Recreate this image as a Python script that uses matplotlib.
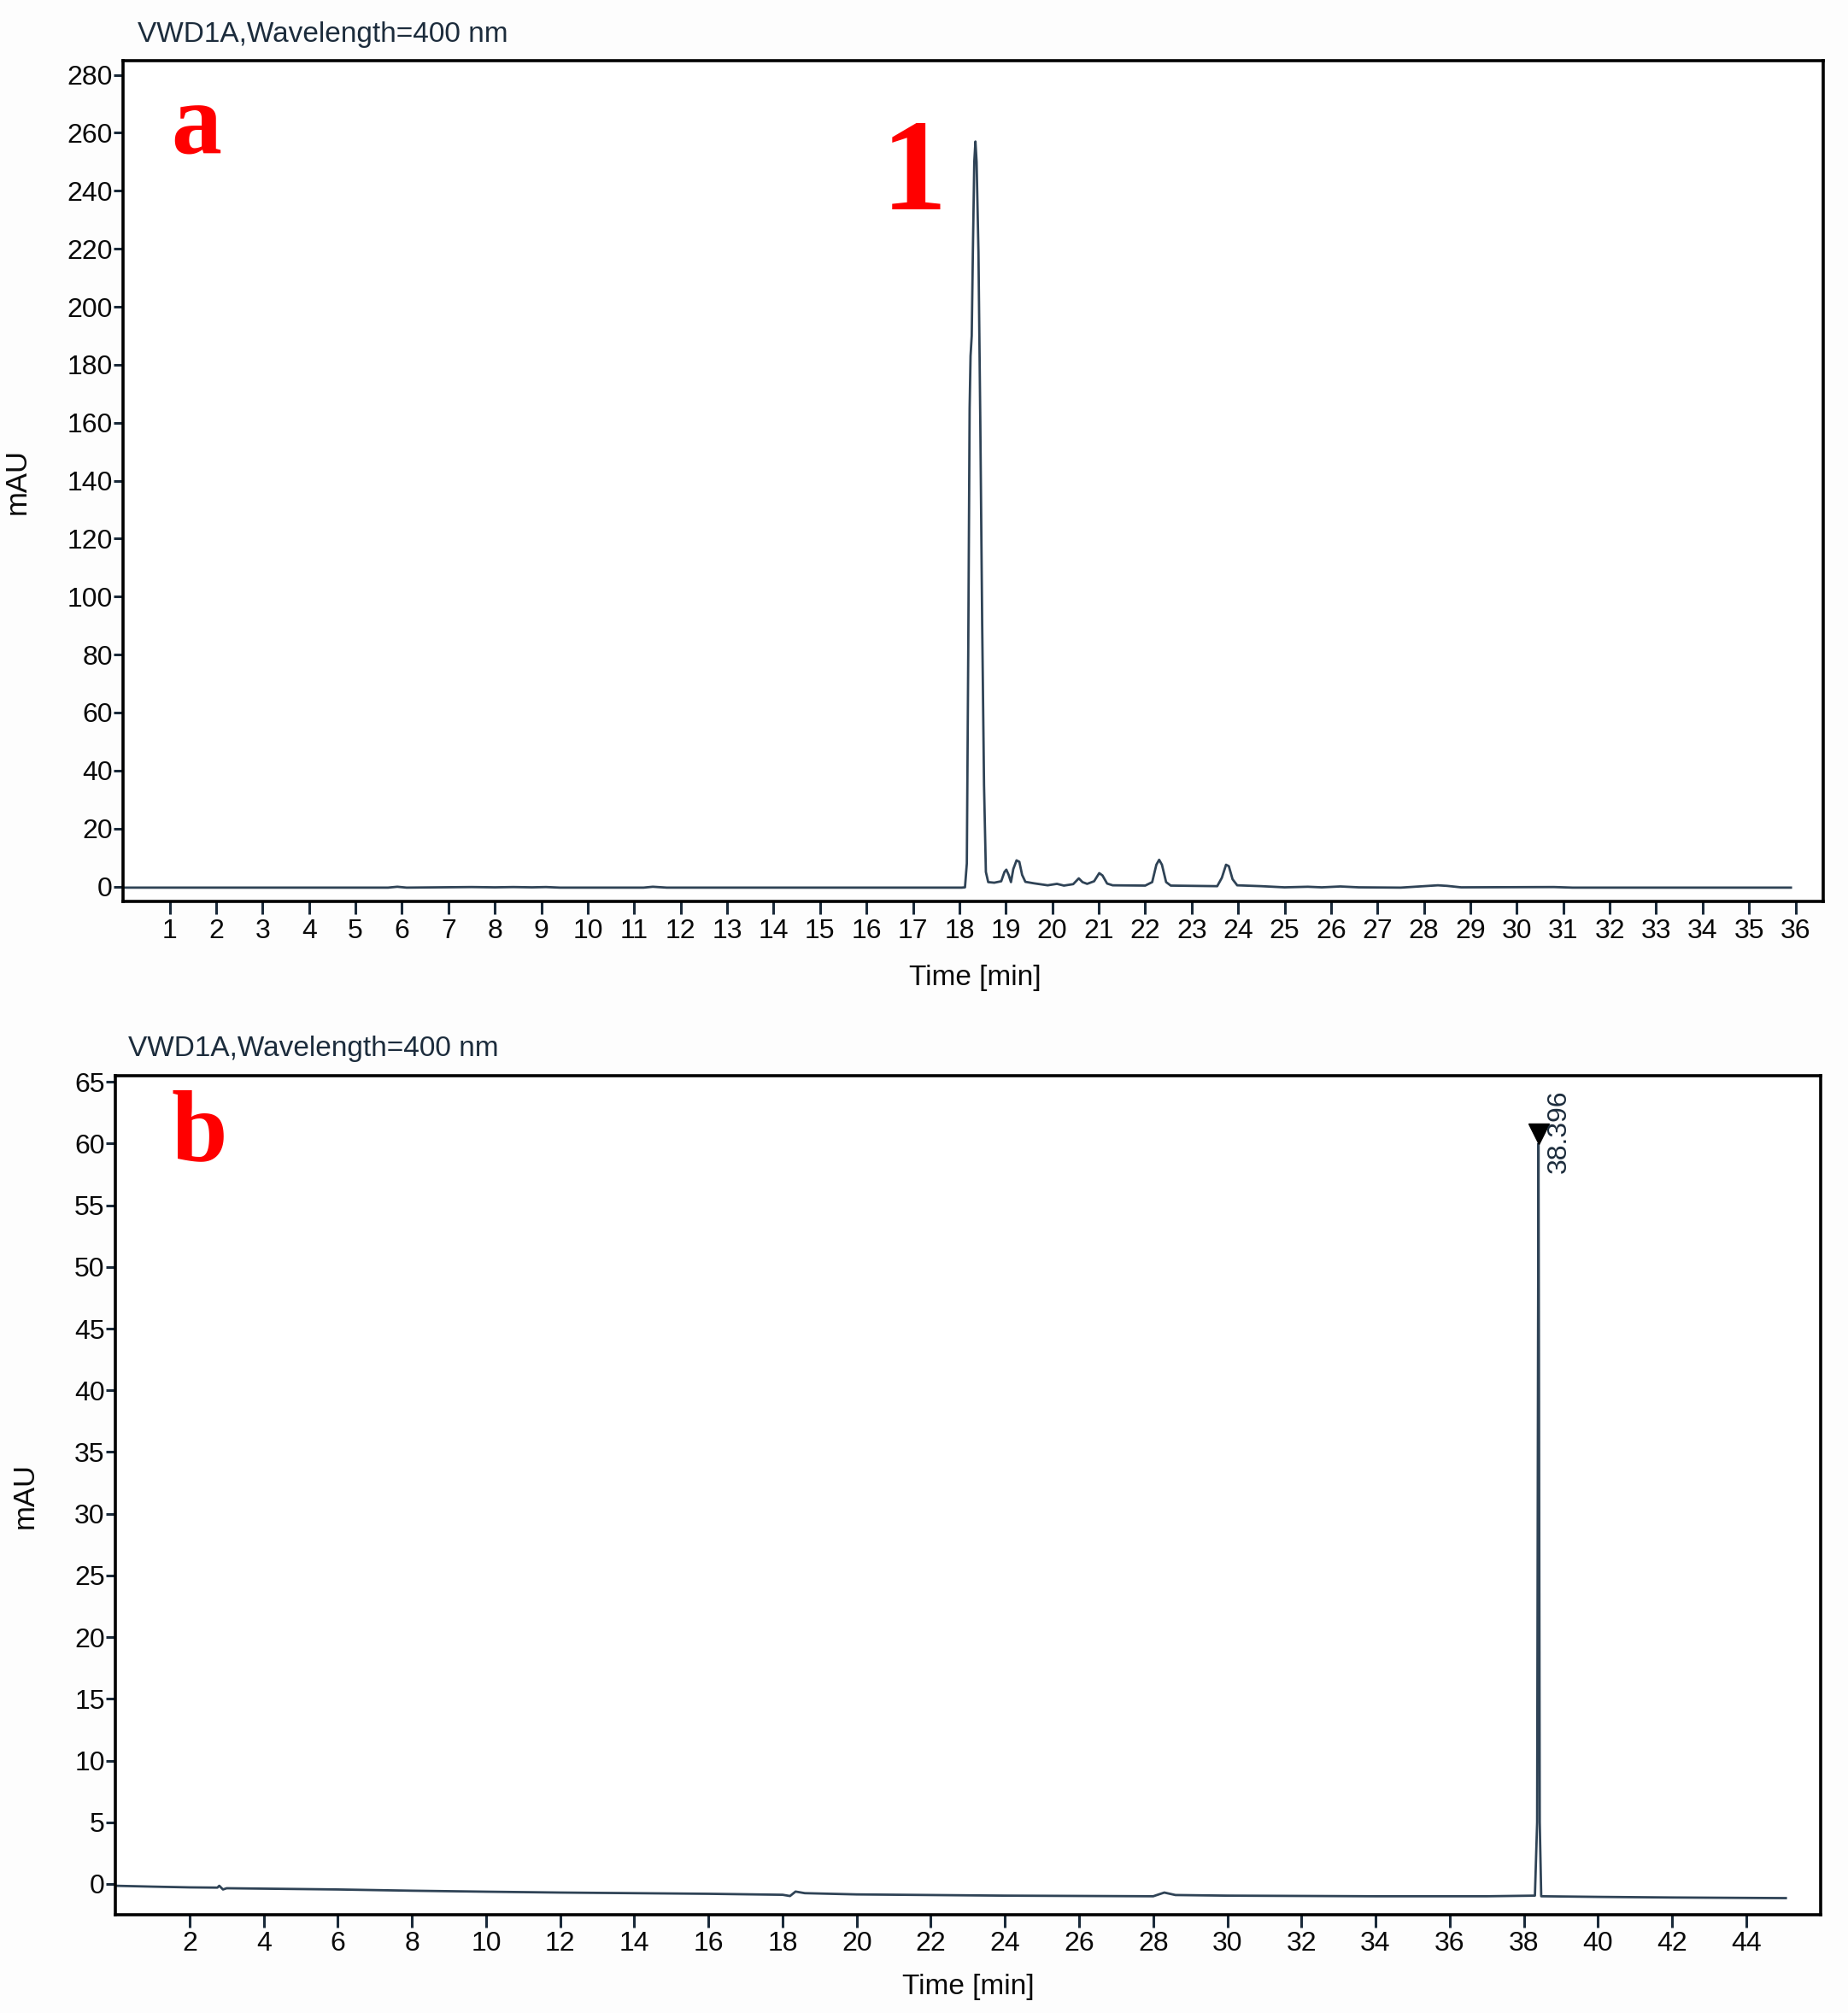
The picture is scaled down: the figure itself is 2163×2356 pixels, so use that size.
import matplotlib
matplotlib.use("Agg")
import matplotlib.pyplot as plt

plt.rcParams["font.family"] = ["Liberation Sans", "DejaVu Sans"]

# Panel a trace: (time [min], mAU)
time_a = [0.0, 5.7, 5.9, 6.1, 6.8, 7.5, 8.0, 8.4, 8.8, 9.1, 9.4, 11.2, 11.4, 11.7,
          18.05, 18.12, 18.16, 18.19, 18.22, 18.24, 18.265, 18.29, 18.32, 18.345,
          18.37, 18.41, 18.45, 18.49, 18.53, 18.57, 18.62, 18.75, 18.9, 18.97,
          19.01, 19.06, 19.11, 19.16, 19.23, 19.29, 19.35, 19.42, 19.6, 19.9,
          20.1, 20.25, 20.45, 20.57, 20.65, 20.75, 20.9, 21.01, 21.08, 21.18,
          21.3, 22.0, 22.15, 22.24, 22.3, 22.36, 22.45, 22.55, 23.55, 23.65,
          23.74, 23.8, 23.88, 23.98, 24.5, 25.0, 25.5, 25.8, 26.2, 26.6, 27.5,
          28.3, 28.5, 28.8, 30.8, 31.2, 35.9]
mau_a = [-0.4, -0.4, -0.1, -0.4, -0.3, -0.2, -0.3, -0.2, -0.3, -0.2, -0.4, -0.4, -0.1, -0.4,
         -0.4, -0.3, 8, 80, 165, 183, 190, 219, 250, 257,
         250, 219, 160, 91, 35, 5, 1.5, 1.3, 1.8, 5.0,
         5.8, 4.0, 1.5, 6.0, 9.0, 8.5, 4.0, 1.6, 1.1, 0.4,
         0.9, 0.3, 0.8, 2.8, 1.5, 0.9, 1.8, 4.6, 3.8, 1.0,
         0.4, 0.3, 1.5, 7.5, 9.2, 7.5, 1.5, 0.3, 0.1, 3.0,
         7.5, 7.0, 2.5, 0.4, 0.1, -0.3, -0.1, -0.3, 0.0, -0.3, -0.4,
         0.4, 0.2, -0.3, -0.2, -0.4, -0.4]

# Panel b trace
time_b = [0.0, 1.0, 2.0, 2.75, 2.8, 2.9, 3.0, 6.0, 8.0, 10.0, 12.0, 14.0, 16.0,
          18.0, 18.2, 18.35, 18.6, 20.0, 24.0, 28.0, 28.3, 28.6, 30.0, 34.0, 37.0,
          38.30, 38.36, 38.385, 38.396, 38.41, 38.43, 38.47, 40.0, 42.0, 45.07]
mau_b = [-0.15, -0.22, -0.28, -0.3, -0.15, -0.45, -0.35, -0.45, -0.55, -0.63, -0.7, -0.75, -0.8,
         -0.88, -0.98, -0.62, -0.75, -0.85, -0.95, -1.0, -0.7, -0.9, -0.95, -1.0, -1.0,
         -0.95, 5, 45, 60, 40, 5, -1.0, -1.05, -1.1, -1.15]

peak_b_time = 38.396
peak_b_mark = 60.8

yticks_a = list(range(0, 281, 20))
xticks_a = list(range(1, 37))
yticks_b = list(range(0, 66, 5))
xticks_b = list(range(2, 45, 2))

title = "VWD1A,Wavelength=400 nm"
line_color = "#2f4356"
tick_color = "#1a2a3a"

fig = plt.figure(figsize=(21.63, 23.56), dpi=100, facecolor="#fdfdfd")
ax_a = fig.add_axes([0.0667, 0.552, 0.920, 0.418])
ax_b = fig.add_axes([0.0625, 0.0488, 0.9225, 0.4168])


def style_axis(ax, xticks, yticks):
    ax.set_facecolor("white")
    for s in ax.spines.values():
        s.set_linewidth(2.6)
        s.set_color("black")
    ax.set_xticks(xticks)
    ax.set_yticks(yticks)
    ax.tick_params(axis="x", length=11, width=2.2, color=tick_color,
                   labelsize=23, pad=3, labelcolor="#0a0a0a")
    ax.tick_params(axis="y", length=8, width=2.2, color=tick_color,
                   labelsize=23, pad=1, labelcolor="#0a0a0a")
    ax.set_ylabel("mAU", fontsize=25, color="#0a0a0a")
    ax.set_xlabel("Time [min]", fontsize=24, color="#0a0a0a")


# panel a
ax_a.plot(time_a, mau_a, color=line_color, lw=2.0)
ax_a.set_xlim(0, 36.6)
ax_a.set_ylim(-5.3, 285)
style_axis(ax_a, xticks_a, yticks_a)
ax_a.xaxis.set_label_coords(0.501, -0.075)
ax_a.yaxis.set_label_coords(-0.054, 0.5)
ax_a.text(0.043, 0.889, "a", transform=ax_a.transAxes, ha="center", va="baseline",
          color="red", fontsize=85, fontweight="bold", family="Liberation Serif")
ax_a.text(0.465, 0.823, "1", transform=ax_a.transAxes, ha="center", va="baseline",
          color="red", fontsize=110, fontweight="bold", family="Liberation Serif")
fig.text(0.0743, 0.979, title, fontsize=24, color="#1c2c3c", va="baseline")

# panel b
ax_b.plot(time_b, mau_b, color=line_color, lw=2.0)
ax_b.plot([peak_b_time], [peak_b_mark], marker="v", color="black", markersize=17)
ax_b.text(peak_b_time + 0.55, 57.6, f"{peak_b_time:.3f}", rotation=90, ha="center",
          va="bottom", fontsize=23, color="#1c2c3c")
ax_b.set_xlim(0, 46)
ax_b.set_ylim(-2.5, 65.5)
style_axis(ax_b, xticks_b, yticks_b)
ax_b.xaxis.set_label_coords(0.5, -0.070)
ax_b.yaxis.set_label_coords(-0.045, 0.5)
ax_b.text(0.049, 0.90, "b", transform=ax_b.transAxes, ha="center", va="baseline",
          color="red", fontsize=85, fontweight="bold", family="Liberation Serif")
fig.text(0.0694, 0.4754, title, fontsize=24, color="#1c2c3c", va="baseline")

fig.savefig("out.png", dpi=100, facecolor=fig.get_facecolor())
